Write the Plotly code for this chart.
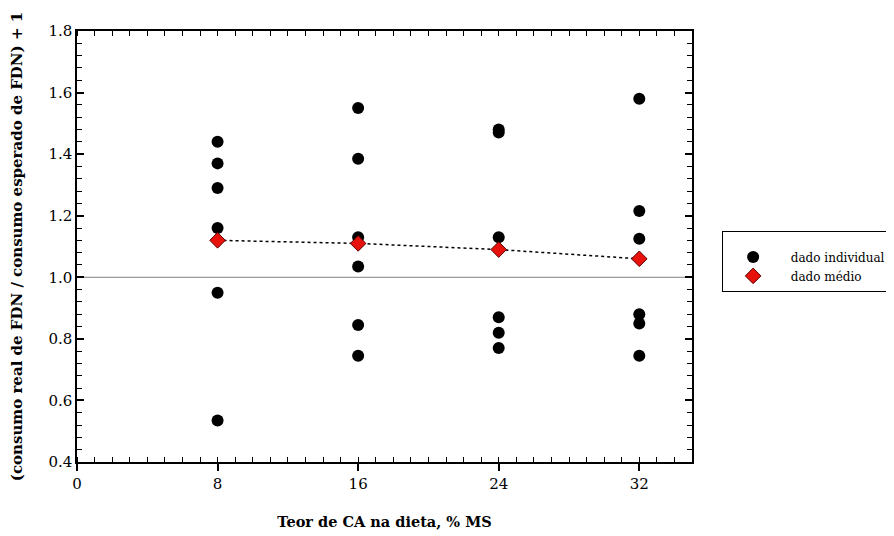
import plotly.graph_objects as go

# Data
teor_ca = [8, 16, 24, 32]
ind_8 = [1.44, 1.37, 1.29, 1.16, 0.95, 0.535]
ind_16 = [1.55, 1.385, 1.13, 1.035, 0.845, 0.745]
ind_24 = [1.48, 1.47, 1.13, 0.87, 0.82, 0.77]
ind_32 = [1.58, 1.215, 1.125, 0.88, 0.85, 0.745]
medio = [1.12, 1.11, 1.09, 1.06]
ref_line = 1.0

x_tick_vals = [0, 8, 16, 24, 32]
y_tick_vals = [0.4, 0.6, 0.8, 1.0, 1.2, 1.4, 1.6, 1.8]

groups = [ind_8, ind_16, ind_24, ind_32]
ind_x = []
ind_y = []
for xv, ys in zip(teor_ca, groups):
    ind_x += [xv] * len(ys)
    ind_y += ys

FONT = "DejaVu Serif"
PAD = "\u00a0\u00a0"

fig = go.Figure()

fig.add_trace(go.Scatter(
    x=[0, 35], y=[ref_line, ref_line], mode="lines",
    line=dict(color="#808080", width=1), showlegend=False, hoverinfo="skip"))

fig.add_trace(go.Scatter(
    x=ind_x, y=ind_y, mode="markers", name=PAD + "dado individual",
    marker=dict(color="black", size=12, symbol="circle")))

fig.add_trace(go.Scatter(
    x=teor_ca, y=medio, mode="lines",
    line=dict(color="black", width=1.5, dash="dot"),
    showlegend=False, hoverinfo="skip"))

fig.add_trace(go.Scatter(
    x=teor_ca, y=medio, mode="markers", name=PAD + "dado médio",
    marker=dict(color="#e8120c", size=12, symbol="diamond",
                line=dict(color="#5a0000", width=1))))

fig.update_layout(
    width=894, height=536,
    margin=dict(l=69, r=210, t=23, b=82, autoexpand=False),
    paper_bgcolor="white", plot_bgcolor="white",
    font=dict(family=FONT, size=15, color="black"),
    showlegend=True,
    legend=dict(
        x=1.049, y=0.536, xanchor="left", yanchor="top",
        bordercolor="black", borderwidth=1,
        font=dict(family=FONT, size=12, color="black"),
        title=dict(text="\u00a0", font=dict(size=8)),
        tracegroupgap=0, itemwidth=50,
    ),
    xaxis=dict(
        range=[0, 35], tickvals=x_tick_vals, ticktext=[str(v) for v in x_tick_vals],
        ticks="outside", ticklen=7, tickwidth=1.5, tickcolor="black",
        minor=dict(dtick=1, ticks="inside", ticklen=5, tickwidth=1, tickcolor="black"),
        showline=True, linecolor="black", linewidth=1.5,
        showgrid=False, zeroline=False, automargin=False,
        title=dict(text="<b>Teor de CA na dieta, % MS</b>",
                   font=dict(family=FONT, size=14.5), standoff=25),
        tickfont=dict(family=FONT, size=15),
    ),
    xaxis2=dict(
        range=[0, 35], overlaying="x", side="top", matches="x",
        tickvals=x_tick_vals, ticks="", showticklabels=False,
        minor=dict(dtick=1, ticks="inside", ticklen=5, tickwidth=1, tickcolor="black"),
        showline=True, linecolor="black", linewidth=1.5,
        showgrid=False, zeroline=False, automargin=False,
    ),
    yaxis=dict(
        range=[0.4, 1.8], tickvals=y_tick_vals, tickformat=".1f",
        ticks="inside", ticklen=7, tickwidth=1.5, tickcolor="black",
        minor=dict(dtick=0.04, tick0=0.4, ticks="inside", ticklen=5, tickwidth=1, tickcolor="black"),
        showline=True, linecolor="black", linewidth=1.5, mirror="ticks",
        showgrid=False, zeroline=False, automargin=False,
        title=dict(text="<b>(consumo real de FDN / consumo esperado de FDN) + 1</b>",
                   font=dict(family=FONT, size=15), standoff=22),
        tickfont=dict(family=FONT, size=15),
    ),
)

fig.add_trace(go.Scatter(x=[None], y=[None], xaxis="x2", showlegend=False, hoverinfo="skip"))

fig.write_html("out.html")
